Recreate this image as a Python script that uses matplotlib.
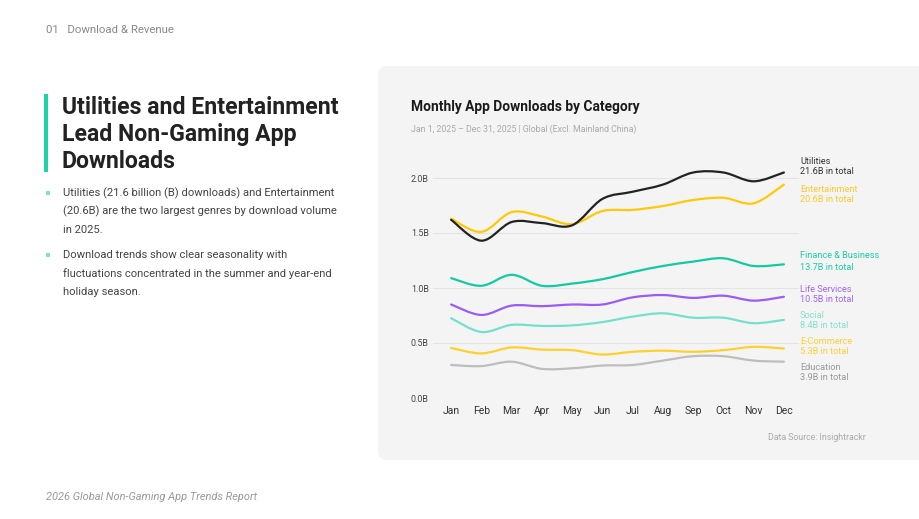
import numpy as np
import matplotlib
matplotlib.use("Agg")
import matplotlib.pyplot as plt
from matplotlib.path import Path
from matplotlib.patches import PathPatch, FancyBboxPatch, Rectangle

plt.rcParams['font.family'] = ['Roboto', 'DejaVu Sans']

# Data (billions of downloads per month)
months = ['Jan', 'Feb', 'Mar', 'Apr', 'May', 'Jun', 'Jul', 'Aug', 'Sep', 'Oct', 'Nov', 'Dec']
utilities = [1.62, 1.43, 1.60, 1.59, 1.57, 1.81, 1.875, 1.94, 2.05, 2.05, 1.97, 2.05]
entertainment = [1.63, 1.51, 1.69, 1.65, 1.58, 1.70, 1.71, 1.745, 1.80, 1.82, 1.77, 1.94]
finance = [1.09, 1.02, 1.12, 1.02, 1.04, 1.08, 1.145, 1.20, 1.24, 1.27, 1.20, 1.215]
life_services = [0.85, 0.755, 0.84, 0.835, 0.85, 0.85, 0.915, 0.936, 0.91, 0.93, 0.885, 0.92]
social = [0.725, 0.60, 0.665, 0.655, 0.66, 0.69, 0.74, 0.77, 0.73, 0.73, 0.68, 0.71]
ecommerce = [0.455, 0.405, 0.46, 0.44, 0.435, 0.395, 0.42, 0.43, 0.42, 0.435, 0.465, 0.45]
education = [0.30, 0.29, 0.33, 0.265, 0.27, 0.295, 0.30, 0.34, 0.38, 0.38, 0.34, 0.33]

series_names = ['Utilities', 'Entertainment', 'Finance & Business', 'Life Services',
                'Social', 'E-Commerce', 'Education']
series_totals = ['21.6B', '20.6B', '13.7B', '10.5B', '8.4B', '5.3B', '3.9B']
series_values = [utilities, entertainment, finance, life_services, social, ecommerce, education]

line_colors = ['#222222', '#ffc907', '#14c9a1', '#9a5cf6', '#72e0cc', '#ffd02e', '#bdbdbd']
text_colors = ['#333333', '#ffc82a', '#1ccca5', '#a066f6', '#7fe2d0', '#ffcf33', '#999999']
label_y = [(161, 172), (189, 200), (256, 267), (289, 300), (315, 326), (341, 351), (367, 377)]

yticks = [0.0, 0.5, 1.0, 1.5, 2.0]
ytick_labels = ['0.0B', '0.5B', '1.0B', '1.5B', '2.0B']

W, H = 920, 519
fig = plt.figure(figsize=(W / 100, H / 100), dpi=100)
fig.patch.set_facecolor('white')

# background layer in pixel coordinates
bg = fig.add_axes([0, 0, 1, 1])
bg.set_xlim(0, W)
bg.set_ylim(H, 0)
bg.axis('off')

bg.add_patch(FancyBboxPatch((378, 66), 560, 394, boxstyle="round,pad=0,rounding_size=9",
                            facecolor='#f4f4f4', edgecolor='none'))

bg.text(46, 30, "01   Download & Revenue", fontsize=8.2, color='#888888', va='center')

bg.add_patch(Rectangle((44, 94), 4, 78, facecolor='#1dd3a7', edgecolor='none'))
for i, line in enumerate(["Utilities and Entertainment", "Lead Non-Gaming App", "Downloads"]):
    bg.text(62, 107 + 27 * i, line, fontsize=16.6, fontweight='bold', color='#222222',
            va='center')

bullets = [["Utilities (21.6 billion (B) downloads) and Entertainment",
            "(20.6B) are the two largest genres by download volume",
            "in 2025."],
           ["Download trends show clear seasonality with",
            "fluctuations concentrated in the summer and year-end",
            "holiday season."]]
for b, y0 in zip(bullets, [193, 255]):
    bg.add_patch(Rectangle((46.5, y0 - 2), 4, 4, facecolor='#7fe0cc', edgecolor='none'))
    for j, line in enumerate(b):
        bg.text(63, y0 + 18.5 * j, line, fontsize=8.1, color='#444444', va='center')

bg.text(46, 497, "2026 Global Non-Gaming App Trends Report", fontsize=7.95, color='#999999',
        style='italic', va='center')

bg.text(411, 107, "Monthly App Downloads by Category", fontsize=9.95, fontweight='bold',
        color='#1a1a1a', va='center')
bg.text(411, 129, "Jan 1, 2025 \u2013 Dec 31, 2025 | Global (Excl. Mainland China)",
        fontsize=6.3, color='#aaaaaa', va='center')
bg.text(866, 437, "Data Source: Insightrackr", fontsize=6.3, color='#aaaaaa',
        va='center', ha='right')

for name, total, c, (y1, y2) in zip(series_names, series_totals, text_colors, label_y):
    bg.text(800, y1, name, fontsize=6.6, color=c, va='center')
    bg.text(800, y2, total + " in total", fontsize=6.6, color=c, va='center')

# chart axes
ax = fig.add_axes([433 / W, (H - 398) / H, 366 / W, 242 / H])
ax.set_facecolor('none')
ax.set_xlim(-0.6, 11.5)
ax.set_ylim(0, 2.2)
for s in ax.spines.values():
    s.set_visible(False)
ax.set_yticks(yticks)
ax.set_yticklabels(ytick_labels)
ax.set_xticks(range(len(months)))
ax.set_xticklabels(months)
ax.tick_params(axis='y', length=0, pad=3, labelsize=6.4, labelcolor='#444444')
ax.tick_params(axis='x', length=0, pad=6, labelsize=7.5, labelcolor='#333333')
ax.grid(axis='y', color='#e3e3e3', linewidth=0.8)
ax.set_axisbelow(True)


def smooth_path(xs, ys):
    # Catmull-Rom style cubic segments through the data points
    pts = np.column_stack([xs, ys]).astype(float)
    n = len(pts)
    verts = [pts[0]]
    codes = [Path.MOVETO]
    for i in range(n - 1):
        p0 = pts[max(i - 1, 0)]
        p1 = pts[i]
        p2 = pts[i + 1]
        p3 = pts[min(i + 2, n - 1)]
        c1 = p1 + (p2 - p0) / 6.0
        c2 = p2 - (p3 - p1) / 6.0
        verts += [c1, c2, p2]
        codes += [Path.CURVE4] * 3
    return Path(verts, codes)


x = np.arange(len(months))
order = [6, 5, 4, 3, 2, 1, 0]
for k in order:
    patch = PathPatch(smooth_path(x, series_values[k]), facecolor='none',
                      edgecolor=line_colors[k], linewidth=1.6, capstyle='round',
                      joinstyle='round', zorder=3)
    ax.add_patch(patch)

fig.savefig("out.png", dpi=100, facecolor='white')
